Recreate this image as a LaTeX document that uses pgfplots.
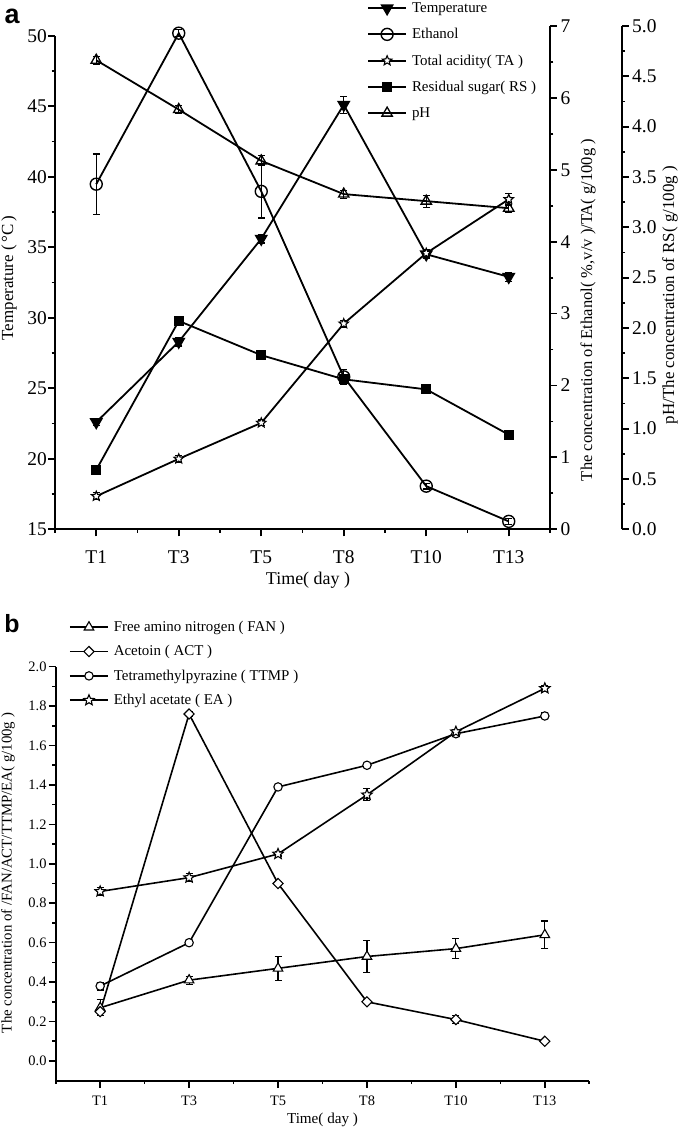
\documentclass[border=0pt]{standalone}
\usepackage{fontspec}
\setmainfont{Liberation Serif}
\newfontfamily\sansbold{Liberation Sans}
\usepackage{pgfplots}
\pgfplotsset{compat=1.18}
\usetikzlibrary{plotmarks}

\pgfdeclareplotmark{ostar}{%
  \pgfpathmoveto{\pgfpointpolar{90}{\pgfplotmarksize}}%
  \pgfpathlineto{\pgfpointpolar{126}{0.45\pgfplotmarksize}}%
  \pgfpathlineto{\pgfpointpolar{162}{\pgfplotmarksize}}%
  \pgfpathlineto{\pgfpointpolar{198}{0.45\pgfplotmarksize}}%
  \pgfpathlineto{\pgfpointpolar{234}{\pgfplotmarksize}}%
  \pgfpathlineto{\pgfpointpolar{270}{0.45\pgfplotmarksize}}%
  \pgfpathlineto{\pgfpointpolar{306}{\pgfplotmarksize}}%
  \pgfpathlineto{\pgfpointpolar{342}{0.45\pgfplotmarksize}}%
  \pgfpathlineto{\pgfpointpolar{18}{\pgfplotmarksize}}%
  \pgfpathlineto{\pgfpointpolar{54}{0.45\pgfplotmarksize}}%
  \pgfpathclose
  \pgfusepathqfillstroke
}

\pgfplotstableread{
x y e
0 22.6 0.25
1 28.3 0.3
2 35.6 0.3
3 45.1 0.6
4 34.5 0.3
5 32.9 0.3
}\tempdata
\pgfplotstableread{
x y e
0 4.80 0.42
1 6.90 0.05
2 4.70 0.37
3 2.12 0.10
4 0.60 0.04
5 0.11 0.04
}\ethdata
\pgfplotstableread{
x y e
0 0.46 0.05
1 0.98 0.05
2 1.48 0.04
3 2.86 0.05
4 3.84 0.05
5 4.59 0.08
}\tadata
\pgfplotstableread{
x y e
0 0.59 0.02
1 2.07 0.03
2 1.73 0.02
3 1.49 0.02
4 1.39 0.02
5 0.94 0.02
}\rsdata
\pgfplotstableread{
x y e
0 4.66 0.04
1 4.17 0.04
2 3.66 0.05
3 3.33 0.04
4 3.26 0.06
5 3.19 0.04
}\phdata
\pgfplotstableread{
x y e
0 0.27 0.04
1 0.41 0.02
2 0.47 0.06
3 0.53 0.08
4 0.57 0.05
5 0.64 0.07
}\fandata
\pgfplotstableread{
x y e
0 0.25 0.02
1 1.76 0.01
2 0.90 0.01
3 0.30 0.01
4 0.21 0.02
5 0.10 0.0
}\actdata
\pgfplotstableread{
x y e
0 0.38 0.02
1 0.60 0.01
2 1.39 0.01
3 1.50 0.01
4 1.66 0.01
5 1.75 0.015
}\ttmpdata
\pgfplotstableread{
x y e
0 0.86 0.02
1 0.93 0.02
2 1.05 0.01
3 1.35 0.03
4 1.67 0.01
5 1.89 0.015
}\eadata

\pgfplotsset{
  eb/.style={error bars/y dir=both, error bars/y explicit,
    error bars/error bar style={line width=1.1bp, black, solid},
    error bars/error mark options={rotate=90, mark size=3.5bp, line width=1.1bp, black, solid}},
  common/.style={scale only axis, clip=false, xmin=-0.5, tick align=outside,
    axis line style={line width=2.2bp, black},
    tick style={line width=1.8bp, black},
    major tick length=7bp, minor tick length=3.5bp,
    /pgf/number format/assume math mode=true,
    legend image code/.code={\draw[mark repeat=2,mark phase=2,##1] plot coordinates {(0bp,0bp)(19bp,0bp)(38bp,0bp)};}},
}

\begin{document}
\begin{tikzpicture}
\useasboundingbox (0,0) rectangle (685bp,1128bp);

% ---------------- Panel a ----------------
\begin{axis}[common, at={(55bp,598.7bp)}, anchor=south west,
  width=495bp, height=493.6bp, xmax=5.5, ymin=15, ymax=50,
  axis x line*=bottom, axis y line*=left,
  xtick={0,...,5}, xticklabels={T1,T3,T5,T8,T10,T13},
  minor xtick={-0.5,0.5,...,5.5},
  ytick={15,20,...,50}, minor y tick num=1,
  tick label style={font=\fontsize{19.5}{20}\selectfont},
  yticklabel style={inner sep=1bp},
  xticklabel style={yshift=-11bp}]
\addplot[line width=1.8bp, mark=triangle*, mark size=6bp, mark options={rotate=180, solid}, eb]
  table[x=x, y=y, y error=e] {\tempdata};
\end{axis}

\begin{axis}[common, at={(55bp,598.7bp)}, anchor=south west,
  width=495bp, height=503.3bp, xmax=5.5, ymin=0, ymax=7,
  hide x axis, axis y line*=right,
  ytick={0,...,7}, minor y tick num=1,
  tick label style={font=\fontsize{19.5}{20}\selectfont}]
\addplot[line width=1.8bp, mark=o, mark size=6bp, mark options={solid, line width=1.4bp}, eb]
  table[x=x, y=y, y error=e] {\ethdata};
\addplot[line width=1.8bp, mark=ostar, mark size=5bp, mark options={solid, fill=white, line width=1.1bp}, eb]
  table[x=x, y=y, y error=e] {\tadata};
\end{axis}

\begin{axis}[common, at={(55bp,598.7bp)}, anchor=south west,
  width=566.7bp, height=503.3bp, xmax=6.3691, ymin=0, ymax=5,
  hide x axis, axis y line*=right,
  ytick={0,0.5,...,5}, yticklabels={0.0,0.5,1.0,1.5,2.0,2.5,3.0,3.5,4.0,4.5,5.0},
  minor y tick num=1,
  tick label style={font=\fontsize{19.5}{20}\selectfont},
  legend style={draw=none, fill=none, at={(0.5506,1.0507)}, anchor=north west,
    font=\fontsize{15}{15}\selectfont, row sep=10.5bp, inner sep=0pt,
    /tikz/every odd column/.append style={column sep=3bp}},
  legend cell align=left]
\addlegendimage{line width=1.8bp, mark=triangle*, mark size=6bp, mark options={rotate=180, solid}}
\addlegendimage{line width=1.8bp, mark=o, mark size=6bp, mark options={solid, line width=1.4bp}}
\addlegendimage{line width=1.8bp, mark=ostar, mark size=5bp, mark options={solid, fill=white, line width=1.1bp}}
\addplot[line width=1.8bp, mark=square*, mark size=4.2bp, mark options={solid}, eb]
  table[x=x, y=y, y error=e] {\rsdata};
\addplot[line width=1.8bp, mark=triangle, mark size=6bp, mark options={solid, line width=1.3bp}, eb]
  table[x=x, y=y, y error=e] {\phdata};
\legend{Temperature, Ethanol, Total acidity( TA ), Residual sugar( RS ), pH}
\end{axis}

\node[rotate=90, font=\fontsize{17}{17}\selectfont] at (9bp,850bp) {Temperature (\,°C\,)};
\node[rotate=90, font=\fontsize{16.6}{17}\selectfont] at (588bp,818bp) {The concentration of Ethanol( \%,v/v )/TA( g/100g )};
\node[rotate=90, font=\fontsize{17}{17}\selectfont] at (670bp,833bp) {pH/The concentration of RS( g/100g )};
\node[font=\fontsize{18}{18}\selectfont] at (308bp,548bp) {Time( day )};
\node[font=\sansbold\bfseries\fontsize{27}{27}\selectfont] at (12bp,1112bp) {a};

% ---------------- Panel b ----------------
\begin{axis}[common, at={(55.7bp,47.3bp)}, anchor=south west,
  width=533.6bp, height=414bp, xmax=5.5, ymin=-0.1, ymax=2.0,
  axis line style={line width=2bp, black},
  tick style={line width=1.6bp, black},
  axis x line*=bottom, axis y line*=left,
  xtick={0,...,5}, xticklabels={T1,T3,T5,T8,T10,T13},
  minor xtick={-0.5,0.5,...,5.5},
  ytick={0,0.2,...,2.0}, minor y tick num=1,
  yticklabel style={/pgf/number format/fixed, /pgf/number format/fixed zerofill, /pgf/number format/precision=1, inner sep=2bp},
  tick label style={font=\fontsize{14.5}{15}\selectfont},
  xticklabel style={yshift=-5bp},
  legend style={draw=none, fill=none, at={(0.0249,1.115)}, anchor=north west,
    font=\fontsize{15}{15}\selectfont, row sep=8.5bp, inner sep=0pt,
    /tikz/every odd column/.append style={column sep=3bp}},
  legend cell align=left]
\addplot[line width=1.6bp, mark=triangle*, mark size=5.5bp, mark options={solid, fill=white, line width=1.1bp}, eb]
  table[x=x, y=y, y error=e] {\fandata};
\addplot[line width=1.6bp, mark=square*, mark size=3.6bp, mark options={solid, fill=white, line width=1.1bp, rotate=45}, eb]
  table[x=x, y=y, y error=e] {\actdata};
\addplot[line width=1.6bp, mark=*, mark size=4.2bp, mark options={solid, fill=white, line width=1.1bp}, eb]
  table[x=x, y=y, y error=e] {\ttmpdata};
\addplot[line width=1.6bp, mark=ostar, mark size=5.5bp, mark options={solid, fill=white, line width=1.1bp}, eb]
  table[x=x, y=y, y error=e] {\eadata};
\legend{Free amino nitrogen ( FAN ), Acetoin ( ACT ), Tetramethylpyrazine ( TTMP ), Ethyl acetate ( EA )}
\end{axis}

\node[rotate=90, font=\fontsize{14.9}{15}\selectfont] at (8bp,255bp) {The concentration of /FAN/ACT/TTMP/EA( g/100g )};
\node[font=\fontsize{15.2}{15}\selectfont] at (322.5bp,8bp) {Time( day )};
\node[font=\sansbold\bfseries\fontsize{25}{25}\selectfont] at (12bp,504.5bp) {b};
\end{tikzpicture}
\end{document}
